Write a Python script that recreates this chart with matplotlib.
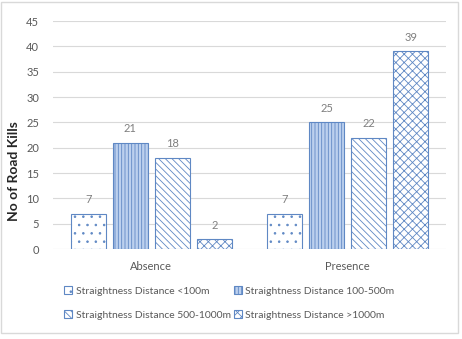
import numpy as np
import matplotlib.pyplot as plt
from matplotlib.patches import Rectangle

plt.rcParams['font.family'] = ['Lato', 'DejaVu Sans']
plt.rcParams['hatch.linewidth'] = 0.6

categories = ['Absence', 'Presence']
series_names = ['Straightness Distance <100m',
                'Straightness Distance 100-500m',
                'Straightness Distance 500-1000m',
                'Straightness Distance >1000m']
below_100 = [7, 7]
from_100_500 = [21, 25]
from_500_1000 = [18, 22]
above_1000 = [2, 39]
series_values = [below_100, from_100_500, from_500_1000, above_1000]

edge = '#5f88c4'
faces = ['white', '#bcd0ee', 'white', 'white']
hatches = ['..', '|||||', '\\\\\\\\\\', 'xxxx']

fig = plt.figure(figsize=(4.62, 3.39), dpi=100)
ax = fig.add_axes([53 / 462, 1 - 249 / 339, 393 / 462, 228 / 339])

x = np.arange(len(categories))
width = 0.178
step = 0.214
handles = []
for i, vals in enumerate(series_values):
    pos = x + (i - 1.5) * step
    bars = ax.bar(pos, vals, width, color=faces[i], edgecolor=edge,
                  hatch=hatches[i], linewidth=0.8, label=series_names[i], zorder=3)
    handles.append(bars)
    for b, v in zip(bars, vals):
        ax.annotate(str(v), (b.get_x() + b.get_width() / 2, v),
                    xytext=(0, 6), textcoords='offset points',
                    ha='center', va='bottom', fontsize=8, color='#7f7f7f')

ax.set_xlim(-0.5, 1.5)
ax.set_ylim(0, 45)
ax.set_yticks(np.arange(0, 46, 5))
ax.set_xticks(x)
ax.set_xticklabels(categories)
ax.yaxis.grid(True, color='#d9d9d9', linewidth=0.8, zorder=0)
for s in ax.spines.values():
    s.set_visible(False)
ax.tick_params(axis='both', length=0, labelsize=8, labelcolor='#595959')
ax.tick_params(axis='x', pad=9)
ax.tick_params(axis='y', pad=10)

ax.set_ylabel('No of Road Kills', fontsize=10, fontweight='bold', color='#262626')
ax.yaxis.set_label_coords(-0.084, 0.34)

# legend is filled row by row in the reference
order = [0, 2, 1, 3]
fig.legend([handles[k] for k in order], [series_names[k] for k in order],
           loc='upper left', bbox_to_anchor=(60 / 462, 1 - 282 / 339), ncol=2,
           frameon=False, fontsize=7.5, handlelength=0.8, handleheight=0.8,
           handletextpad=0.3, columnspacing=0.3, labelspacing=1.4,
           labelcolor='#595959', borderaxespad=0)

fig.patches.append(Rectangle((1 / 462, 1 - 333 / 339), 457 / 462, 331 / 339,
                             transform=fig.transFigure, fill=False,
                             edgecolor='#d9d9d9', linewidth=1))

fig.savefig('out.png', dpi=100)
